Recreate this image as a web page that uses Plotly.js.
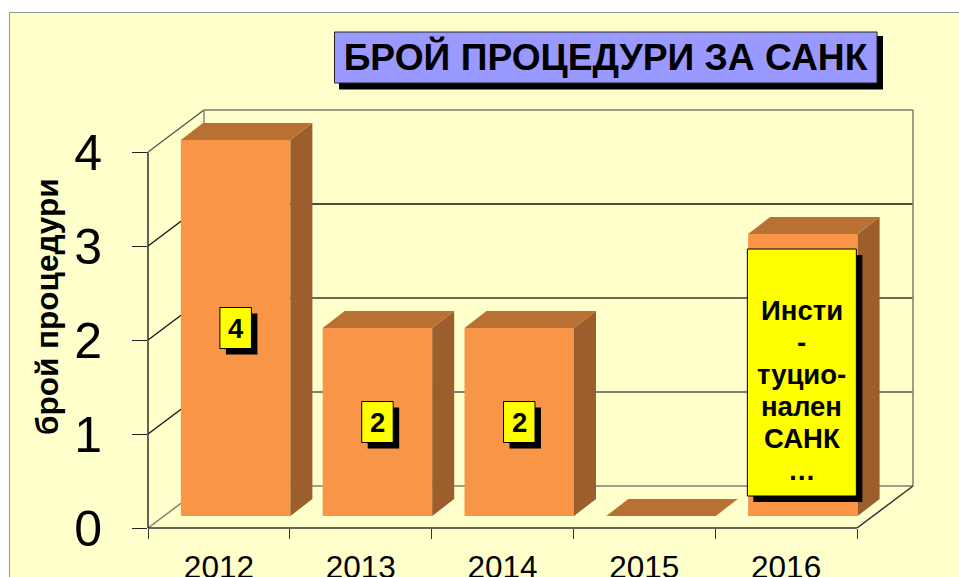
<!DOCTYPE html>
<html>
<head>
<meta charset="utf-8">
<script src="https://cdn.plot.ly/plotly-3.0.1.min.js"></script>
<style>html,body{margin:0;padding:0;background:#fff;overflow:hidden}#chart{width:959px;height:577px}</style>
</head>
<body>
<div id="chart"></div>
<script>
// ---- data ----
const categories = ['2012', '2013', '2014', '2015', '2016'];
const procedures = [4, 2, 2, 0, 3];
const yTicks = [0, 1, 2, 3, 4];
const chartTitle = 'БРОЙ ПРОЦЕДУРИ ЗА САНК';
const yAxisTitle = 'брой процедури';
const callouts = [['4'], ['2'], ['2'], null, ['Инсти', '-', 'туцио-', 'нален', 'САНК', '…']];

// ---- geometry ----
const W = 959, H = 577;
const M = {l: 148, r: 39, t: 104, b: 49};
const pxX = 141.8, pxY = 94;            // pixels per category / per unit
const xMin = -0.5, xMax = xMin + (W - M.l - M.r) / pxX;
const yMin = 0, yMax = (H - M.t - M.b) / pxY;
const wallDX = 56 / pxX, wallDY = 42 / pxY;      // depth of the box
const barDX = 22 / pxX, barDY = 17 / pxY;        // depth of a bar
const floorLift = 12 / pxY;                      // bars stand forward on the floor
const barOffset = -38 / pxX, barWidth = 109.5 / pxX;
const px = v => (v - M.l) / (W - M.l - M.r);
const py = v => 1 - (v - M.t) / (H - M.t - M.b);

const INK = '#000000';
const shapes = [];
const line = (x0, y0, x1, y1, color, width, extra) => shapes.push(Object.assign({
  type: 'line', xref: 'x', yref: 'y', x0, y0, x1, y1, layer: 'below',
  line: {color, width}
}, extra || {}));

// panel + title box, in page pixels
shapes.push({type: 'rect', xref: 'paper', yref: 'paper', layer: 'below',
  x0: px(9.5), x1: px(975), y0: py(12.5), y1: py(600),
  fillcolor: '#FFFFCC', line: {color: '#969696', width: 1}});
shapes.push({type: 'rect', xref: 'paper', yref: 'paper', layer: 'below',
  x0: px(339), x1: px(883), y0: py(36), y1: py(89.5),
  fillcolor: '#000000', line: {width: 0}});
shapes.push({type: 'rect', xref: 'paper', yref: 'paper', layer: 'below',
  x0: px(334.5), x1: px(877), y0: py(32), y1: py(83),
  fillcolor: '#9999FF', line: {color: '#222222', width: 1}});

// box walls
const backL = xMin + wallDX, backR = xMin + categories.length + wallDX;
const gridColors = {0: '#7f7f70', 1: '#55554c', 2: '#3a3a34', 3: '#111111', 4: '#7a7a70'};
yTicks.forEach(v => {
  const w = v === 4 || v === 0 ? 1.4 : 1.7;
  line(backL, v + wallDY, backR, v + wallDY, gridColors[v], w);
  line(xMin, v, backL, v + wallDY, v === 0 ? '#777770' : (v === 4 ? '#55554c' : '#111111'), 1.4);
});
line(backL, wallDY, backL, 4 + wallDY, '#808078', 1.4);
line(backR, wallDY, backR, 4 + wallDY, '#858578', 1.6);
line(xMin + categories.length, 0, backR, wallDY, '#333330', 1.5);
// front axis lines (half outside the plot clip, so anchored on paper)
shapes.push({type: 'line', xref: 'paper', yref: 'y', x0: 0, x1: 0, y0: 0, y1: 4, layer: 'above',
  line: {color: '#222222', width: 1.4}});
shapes.push({type: 'line', xref: 'x', yref: 'paper', x0: xMin, x1: xMin + categories.length, y0: 0, y1: 0,
  layer: 'above', line: {color: '#333333', width: 1.5}});

// bar side + top faces
procedures.forEach((v, i) => {
  const x0 = i + barOffset, x1 = x0 + barWidth, b = floorLift, t = floorLift + v;
  if (v > 0) {
    shapes.push({type: 'path', xref: 'x', yref: 'y', layer: 'above',
      path: `M${x1},${b}L${x1 + barDX},${b + barDY}L${x1 + barDX},${t + barDY}L${x1},${t}Z`,
      fillcolor: '#9C5E2C', line: {width: 0}});
  }
  shapes.push({type: 'path', xref: 'x', yref: 'y', layer: 'above',
    path: `M${x0},${t}L${x0 + barDX},${t + barDY}L${x1 + barDX},${t + barDY}L${x1},${t}Z`,
    fillcolor: '#B97033', line: {width: 0}});
});

// callouts on the bars
const annotations = [];
const calloutStep = 32;
procedures.forEach((v, i) => {
  const lines = callouts[i];
  if (lines === null) return;
  const big = lines.length > 1;
  const cx = i + barOffset + barWidth / 2 - (big ? 1 / pxX : 0);
  const cy = floorLift + v / 2 + (big ? 2.5 / pxY : 0);
  const w = big ? 109 : 31.5, h = big ? 247 : 41;
  shapes.push({type: 'rect', xref: 'x', yref: 'y', layer: 'above',
    x0: cx - w / 2 / pxX + 6 / pxX, x1: cx + w / 2 / pxX + 6 / pxX,
    y0: cy - h / 2 / pxY - 6 / pxY, y1: cy + h / 2 / pxY - 6 / pxY,
    fillcolor: '#000000', line: {width: 0}});
  shapes.push({type: 'rect', xref: 'x', yref: 'y', layer: 'above',
    x0: cx - w / 2 / pxX, x1: cx + w / 2 / pxX,
    y0: cy - h / 2 / pxY, y1: cy + h / 2 / pxY,
    fillcolor: '#FFFF00', line: {color: '#000000', width: 1}});
  lines.forEach((t, k) => {
    annotations.push({xref: 'x', yref: 'y', x: cx, y: cy,
      yshift: ((lines.length - 1) / 2 - k) * calloutStep + (big ? -18 : 0),
      text: '<b>' + t + '</b>', showarrow: false, align: 'center',
      font: {family: 'Liberation Sans', size: 27.5, color: INK}});
  });
});
annotations.push({xref: 'paper', yref: 'paper', x: px(47), y: py(307), text: '<b>' + yAxisTitle + '</b>',
  textangle: -90, showarrow: false, xanchor: 'center', yanchor: 'middle',
  font: {family: 'Liberation Sans', size: 31.5, color: INK}});

const traces = [{
  type: 'bar', x: categories, y: procedures, base: floorLift,
  width: barWidth, offset: barOffset,
  marker: {color: '#F99546', line: {width: 0}},
  hoverinfo: 'x+y', showlegend: false
}];

const layout = {
  width: W, height: H, autosize: false, showlegend: false,
  margin: {l: M.l, r: M.r, t: M.t, b: M.b, pad: 0},
  paper_bgcolor: '#FFFFFF', plot_bgcolor: 'rgba(0,0,0,0)',
  font: {family: 'Liberation Sans', color: INK},
  title: {text: chartTitle, xref: 'container', yref: 'container', x: 605.5 / W, y: 1 - 57 / H,
    xanchor: 'center', yanchor: 'middle',
    font: {family: 'Liberation Sans', size: 37.2, weight: 700, color: INK}},
  xaxis: {type: 'category', categoryorder: 'array', categoryarray: categories,
    range: [xMin, xMax], tickson: 'boundaries', ticks: 'outside', ticklen: 10, tickwidth: 1,
    tickcolor: '#333333', showgrid: false, zeroline: false, showline: false,
    ticklabelstandoff: 17, tickfont: {family: 'Liberation Sans', size: 31.5, color: INK}},
  yaxis: {type: 'linear', range: [yMin, yMax], tickmode: 'array', tickvals: yTicks,
    ticks: 'outside', ticklen: 15, tickwidth: 1, tickcolor: '#222222',
    showgrid: false, zeroline: false, showline: false,
    ticklabelstandoff: 20, tickfont: {family: 'Liberation Sans', size: 50, color: INK}},
  shapes, annotations
};

Plotly.newPlot('chart', traces, layout, {displayModeBar: false, staticPlot: false, responsive: false});
</script>
</body>
</html>
